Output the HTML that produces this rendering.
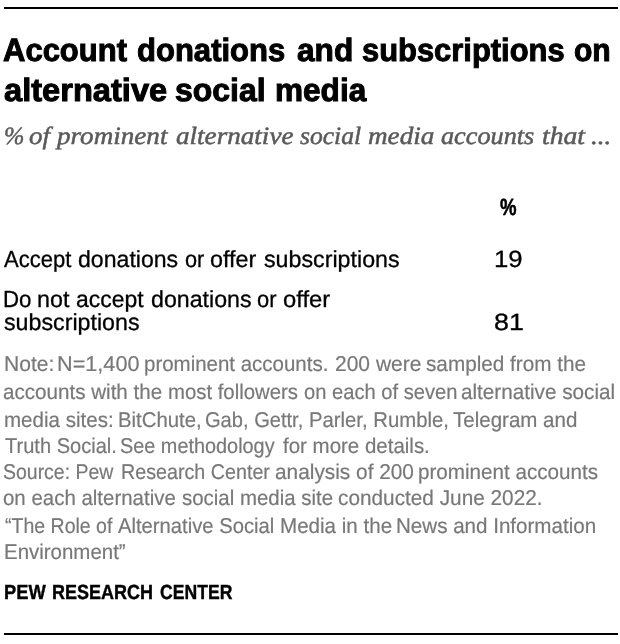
<!DOCTYPE html>
<html lang="en"><head><meta charset="utf-8"><title>Account donations and subscriptions on alternative social media</title>
<style>
html,body{margin:0;padding:0;background:#fff}
body{width:620px;height:644px;position:relative;overflow:hidden}
#c{position:absolute;left:0;top:0;width:620px;height:644px;will-change:transform}
h1,p,.table,.thead,.row{margin:0;padding:0;border:0;font-size:0;line-height:0}
.rule{position:absolute;left:4px;width:614px;height:2px;background:#000}
.w{position:absolute;display:block;white-space:nowrap;transform-origin:0 0;margin:0;text-rendering:geometricPrecision}
.t{font:normal 700 32.2px/1 "Liberation Sans", sans-serif;color:#000;-webkit-text-stroke:1.0px #000}
.s{font:italic 400 25px/1 "Liberation Serif", serif;color:#5a5a5a;-webkit-text-stroke:0.5px #5a5a5a}
.h{font:normal 700 23.4px/1 "Liberation Sans", sans-serif;color:#000;-webkit-text-stroke:0.6px #000}
.l{font:normal 400 23.3px/1 "Liberation Sans", sans-serif;color:#000;-webkit-text-stroke:0.3px #000}
.n{font:normal 400 23.5px/1 "Liberation Sans", sans-serif;color:#000;-webkit-text-stroke:0.3px #000}
.f{font:normal 400 21.4px/1 "Liberation Sans", sans-serif;color:#787878;-webkit-text-stroke:0.2px #787878}
.p{font:normal 700 20.5px/1 "Liberation Sans", sans-serif;color:#000;-webkit-text-stroke:0.4px #000}
#t1w1{left:3.37px;top:33.90px;transform:scaleX(0.9632)}
#t1w2{left:137.03px;top:33.90px;transform:scaleX(0.9642)}
#t1w3{left:296.78px;top:33.90px;transform:scaleX(0.9827)}
#t1w4{left:362.11px;top:33.90px;transform:scaleX(0.9598)}
#t1w5{left:573.84px;top:33.90px;transform:scaleX(0.9343)}
#t2w1{left:4.09px;top:73.90px;transform:scaleX(1.0136)}
#t2w2{left:175.01px;top:73.90px;transform:scaleX(0.9934)}
#t2w3{left:275.37px;top:73.90px;transform:scaleX(0.9803)}
#subw1{left:3.66px;top:124.00px;transform:scaleX(0.9790)}
#subw2{left:29.22px;top:124.00px;transform:scaleX(1.0802)}
#subw3{left:56.54px;top:124.00px;transform:scaleX(1.0841)}
#subw4{left:175.55px;top:124.00px;transform:scaleX(1.0845)}
#subw5{left:300.29px;top:124.00px;transform:scaleX(1.0230)}
#subw6{left:368.23px;top:124.00px;transform:scaleX(1.0865)}
#subw7{left:441.45px;top:124.00px;transform:scaleX(1.0494)}
#subw8{left:542.06px;top:124.00px;transform:scaleX(1.1072)}
#subw9{left:591.02px;top:124.00px;transform:scaleX(1.0852)}
#hd{left:500.00px;top:196.30px;transform:scaleX(0.7940)}
#l1w1{left:4.17px;top:248.35px;transform:scaleX(0.9464)}
#l1w2{left:77.95px;top:248.35px;transform:scaleX(0.9913)}
#l1w3{left:184.61px;top:248.35px;transform:scaleX(0.9328)}
#l1w4{left:210.11px;top:248.35px;transform:scaleX(1.0023)}
#l1w5{left:264.04px;top:248.35px;transform:scaleX(0.9974)}
#l2w1{left:3.13px;top:288.35px;transform:scaleX(0.9557)}
#l2w2{left:36.87px;top:288.35px;transform:scaleX(0.9999)}
#l2w3{left:75.93px;top:288.35px;transform:scaleX(0.9843)}
#l2w4{left:150.55px;top:288.35px;transform:scaleX(0.9950)}
#l2w5{left:256.59px;top:288.35px;transform:scaleX(0.9402)}
#l2w6{left:282.89px;top:288.35px;transform:scaleX(1.0214)}
#l3{left:3.84px;top:311.35px;transform:scaleX(0.9967)}
#n1{left:494.38px;top:248.25px;transform:scaleX(1.0949)}
#n2{left:494.19px;top:311.25px;transform:scaleX(1.1419)}
#f1w1{left:3.97px;top:354.30px;transform:scaleX(0.9853)}
#f1w2{left:57.26px;top:354.30px;transform:scaleX(1.0128)}
#f1w3{left:144.23px;top:354.30px;transform:scaleX(0.9572)}
#f1w4{left:334.93px;top:354.30px;transform:scaleX(0.9821)}
#f1w5{left:425.57px;top:354.30px;transform:scaleX(0.9683)}
#f2w1{left:3.36px;top:382.30px;transform:scaleX(0.9632)}
#f2w2{left:168.18px;top:382.30px;transform:scaleX(0.9505)}
#f2w3{left:303.74px;top:382.30px;transform:scaleX(0.9423)}
#f2w4{left:461.35px;top:382.30px;transform:scaleX(0.9673)}
#f3w1{left:3.72px;top:410.30px;transform:scaleX(0.9607)}
#f3w2{left:118.14px;top:410.30px;transform:scaleX(0.9516)}
#f3w3{left:205.39px;top:410.30px;transform:scaleX(0.9390)}
#f3w4{left:308.55px;top:410.30px;transform:scaleX(0.9487)}
#f3w5{left:452.50px;top:410.30px;transform:scaleX(0.9595)}
#f4w1{left:5.13px;top:436.30px;transform:scaleX(0.9381)}
#f4w2{left:120.43px;top:436.30px;transform:scaleX(0.9284)}
#f4w3{left:282.98px;top:436.30px;transform:scaleX(0.9573)}
#f5w1{left:3.10px;top:462.30px;transform:scaleX(0.9098)}
#f5w2{left:120.69px;top:462.30px;transform:scaleX(0.9210)}
#f5w3{left:274.70px;top:462.30px;transform:scaleX(0.9738)}
#f5w4{left:418.24px;top:462.30px;transform:scaleX(0.9647)}
#f6w1{left:3.49px;top:488.30px;transform:scaleX(0.9559)}
#f6w2{left:181.56px;top:488.30px;transform:scaleX(0.9559)}
#f6w3{left:337.79px;top:488.30px;transform:scaleX(0.9718)}
#f7w1{left:4.93px;top:516.30px;transform:scaleX(0.9125)}
#f7w2{left:118.11px;top:516.30px;transform:scaleX(0.9454)}
#f7w3{left:279.50px;top:516.30px;transform:scaleX(0.9619)}
#f7w4{left:396.49px;top:516.30px;transform:scaleX(0.9618)}
#f8{left:4.13px;top:542.30px;transform:scaleX(0.9565)}
#peww1{left:3.76px;top:583.25px;transform:scaleX(0.8923)}
#peww2{left:52.19px;top:583.25px;transform:scaleX(0.8773)}
#peww3{left:159.54px;top:583.25px;transform:scaleX(0.8583)}
</style></head><body>
<div id="c">
<div class="rule" style="top:7px"></div>
<h1 class="title">
 <span class="w t" id="t1w1">Account</span> <span class="w t" id="t1w2">donations</span> <span class="w t" id="t1w3">and</span> <span class="w t" id="t1w4">subscriptions</span> <span class="w t" id="t1w5">on</span>
 <span class="w t" id="t2w1">alternative</span> <span class="w t" id="t2w2">social</span> <span class="w t" id="t2w3">media</span>
</h1>
<p class="subtitle">
 <span class="w s" id="subw1">%</span> <span class="w s" id="subw2">of</span> <span class="w s" id="subw3">prominent</span> <span class="w s" id="subw4">alternative</span> <span class="w s" id="subw5">social</span> <span class="w s" id="subw6">media</span> <span class="w s" id="subw7">accounts</span> <span class="w s" id="subw8">that</span> <span class="w s" id="subw9">...</span>
</p>
<div class="table">
 <div class="thead">
  <span class="w h" id="hd">%</span>
 </div>
 <div class="row">
  <span class="w l" id="l1w1">Accept</span> <span class="w l" id="l1w2">donations</span> <span class="w l" id="l1w3">or</span> <span class="w l" id="l1w4">offer</span> <span class="w l" id="l1w5">subscriptions</span>
  <span class="w n" id="n1">19</span>
 </div>
 <div class="row">
  <span class="w l" id="l2w1">Do</span> <span class="w l" id="l2w2">not</span> <span class="w l" id="l2w3">accept</span> <span class="w l" id="l2w4">donations</span> <span class="w l" id="l2w5">or</span> <span class="w l" id="l2w6">offer</span>
  <span class="w l" id="l3">subscriptions</span>
  <span class="w n" id="n2">81</span>
 </div>
</div>
<p class="note">
 <span class="w f" id="f1w1">Note:</span> <span class="w f" id="f1w2">N=1,400</span> <span class="w f" id="f1w3">prominent accounts.</span> <span class="w f" id="f1w4">200 were</span> <span class="w f" id="f1w5">sampled from the</span>
 <span class="w f" id="f2w1">accounts with the</span> <span class="w f" id="f2w2">most followers</span> <span class="w f" id="f2w3">on each of seven</span> <span class="w f" id="f2w4">alternative social</span>
 <span class="w f" id="f3w1">media sites:</span> <span class="w f" id="f3w2">BitChute,</span> <span class="w f" id="f3w3">Gab, Gettr,</span> <span class="w f" id="f3w4">Parler, Rumble,</span> <span class="w f" id="f3w5">Telegram and</span>
 <span class="w f" id="f4w1">Truth Social.</span> <span class="w f" id="f4w2">See methodology</span> <span class="w f" id="f4w3">for more details.</span>
</p>
<p class="source">
 <span class="w f" id="f5w1">Source: Pew</span> <span class="w f" id="f5w2">Research Center</span> <span class="w f" id="f5w3">analysis of 200</span> <span class="w f" id="f5w4">prominent accounts</span>
 <span class="w f" id="f6w1">on each alternative</span> <span class="w f" id="f6w2">social media site</span> <span class="w f" id="f6w3">conducted June 2022.</span>
</p>
<p class="report">
 <span class="w f" id="f7w1">“The Role of</span> <span class="w f" id="f7w2">Alternative Social</span> <span class="w f" id="f7w3">Media in the</span> <span class="w f" id="f7w4">News and Information</span>
 <span class="w f" id="f8">Environment”</span>
</p>
<p class="org">
 <span class="w p" id="peww1">PEW</span> <span class="w p" id="peww2">RESEARCH</span> <span class="w p" id="peww3">CENTER</span>
</p>
<div class="rule" style="top:633px"></div>
</div>
</body></html>
